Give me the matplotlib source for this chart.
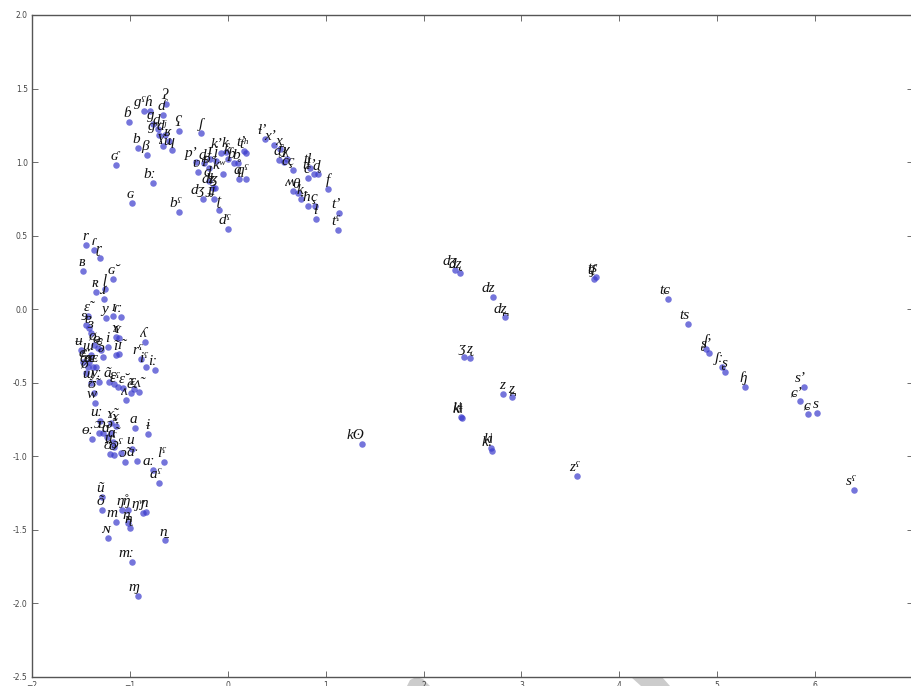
import matplotlib
matplotlib.use('Agg')
import matplotlib.pyplot as plt
from matplotlib.patches import Polygon

# phoneme labels and their 2-d embedding coordinates
labels = [
    # voiced stops / implosives
    'ʛ', 'ɢ', 'ɓ', 'b', 'β', 'ɡˤ', 'ɦ', 'ɗ', 'ʔ', 'ɡ', 'd', 'ɡʷ', 'dʲ', 'ʕ',
    'ʁ', 'ɣ', 'ɰ', 'bː', 'bˤ', 'ʃ',
    # central stop cluster
    'pʼ', 'd̪', 'ɟ', 'ʋ', 'p', 'ʝ', 'kʼ', 'k', 'ƙ', 'ƥ', 'b̥', 'tʼ', 'tʰ',
    'kʷ', 'q', 'qˤ', 'ɖ', 'dʑ', 'ɮ', 'dʒ', 'ɟʝ', 'ʈ', 'dˤ',
    # voiceless fricatives / laterals
    'ɬʼ', 'xʼ', 'x̠', 'ɗ̥', 'ɫ', 'χ', 'cç', 'tɬ', 'c', 'tɬʼ', 'd̥', 'f',
    'ʍ', 'θ', 'k̟', 'ħ', 'ç', 'ɬ', 'tʼ', 'tˤ',
    # rhotics, liquids, vowels
    'r', 'ɾ', 'ɽ', 'ʙ', 'ɢ̆', 'ʀ', 'ɭ', 'ɹ', 'ɛ̃', 'y', 'ɪ', 'ɾː', 'ɘ', 'ɐ',
    'ɜ', 'ɤ', 'ʏ', 'ʉ', 'ø', 'ɵ', 'ɞ', 'ə', 'ɯ̃', 'i', 'ĩ', 'ɪ̃', 'ʎ', 'rˤ',
    'iˤ', 'iː', 'e', 'ɛː', 'æ', 'œ', 'ɶ', 'ø̃', 'yː', 'ɯ', 'ʊ̃', 'w', 'ã',
    'ɛ', 'ɛˤ', 'ɛ̆', 'ʌ', 'ẽ', 'ɛ̰', 'ʌ̃',
    'uː', 'ɤ̃', 'ɤ̞', 'a', 'ɨ', 'ɵː', 'ɔ', 'ɒ', 'ɑ', 'ə̃', 'ɑ̃', 'ʊ', 'uˤ',
    'u', 'o', 'ɔˤ', 'aˑ', 'ɔ̃', 'lˤ', 'aː', 'aˤ',
    # nasals
    'ũ', 'õ', 'ŋ̊', 'ŋ', 'ŋʷ', 'ɲ', 'm', 'n̪', 'ɳ', 'ɴ', 'n̠', 'mː', 'ɱ',
    # clicks, sibilants
    'kʘ', 'dʒ', 'dʐ', 'dz', 'dz̪', 'ʒ', 'ʐ', 'z', 'z̪', 'kǁ', 'kǂ', 'kǀ',
    'kǃ', 'zˤ', 'tʃ', 'tʂ', 'tɕ', 'ts', 'ʃ', 'ʂʼ', 'ʃː', 'ʂ', 'ɧ', 'sʼ',
    'ɕʼ', 'ɕ', 's', 'sˤ',
]

x_vals = [
    -1.144, -0.981, -1.011, -0.919, -0.827, -0.858, -0.797, -0.664, -0.633,
    -0.766, -0.715, -0.705, -0.644, -0.501, -0.603, -0.664, -0.572, -0.766,
    -0.501, -0.276,
    -0.327, -0.245, -0.184, -0.306, -0.194, -0.123, -0.072, -0.020, 0.000,
    0.061, 0.102, 0.163, 0.184, -0.051, 0.112, 0.184, -0.194, -0.153, -0.133,
    -0.255, -0.143, -0.092, 0.000,
    0.378, 0.470, 0.531, 0.521, 0.572, 0.603, 0.664, 0.838, 0.817, 0.878,
    0.919, 1.022, 0.664, 0.715, 0.746, 0.817, 0.889, 0.899, 1.134, 1.124,
    -1.450, -1.369, -1.308, -1.481, -1.175, -1.348, -1.256, -1.267, -1.430,
    -1.246, -1.175, -1.093, -1.450, -1.420, -1.399, -1.144, -1.113, -1.502,
    -1.369, -1.328, -1.297, -1.277, -1.399, -1.226, -1.144, -1.113, -0.848,
    -0.889, -0.838, -0.746, -1.481, -1.420, -1.430, -1.379, -1.348, -1.450,
    -1.318, -1.399, -1.369, -1.359, -1.216, -1.165, -1.124, -1.073, -1.042,
    -0.991, -0.960, -0.909,
    -1.308, -1.195, -1.144, -0.950, -0.817, -1.389, -1.318, -1.277, -1.236,
    -1.195, -1.175, -1.205, -1.165, -0.981, -1.165, -1.093, -0.930, -1.052,
    -0.654, -0.766, -0.705,
    -1.287, -1.287, -1.083, -1.022, -0.868, -0.838, -1.144, -1.022, -1.001,
    -1.226, -0.644, -0.981, -0.919,
    1.369, 2.319, 2.370, 2.707, 2.830, 2.411, 2.472, 2.809, 2.901, 2.390,
    2.380, 2.687, 2.697, 3.565, 3.739, 3.759, 4.495, 4.699, 4.883, 4.913,
    5.046, 5.077, 5.281, 5.884, 5.843, 5.925, 6.017, 6.395,
]

y_vals = [
    0.980, 0.721, 1.272, 1.095, 1.048, 1.347, 1.347, 1.320, 1.395, 1.259,
    1.225, 1.184, 1.184, 1.211, 1.143, 1.109, 1.082, 0.857, 0.660, 1.197,
    1.000, 0.993, 1.020, 0.932, 0.959, 1.007, 1.061, 1.068, 1.020, 0.993,
    0.993, 1.075, 1.061, 0.918, 0.884, 0.884, 0.871, 0.823, 0.823, 0.748,
    0.748, 0.673, 0.544,
    1.157, 1.116, 1.088, 1.014, 1.000, 1.020, 0.946, 0.959, 0.891, 0.918,
    0.918, 0.816, 0.803, 0.789, 0.748, 0.701, 0.701, 0.612, 0.653, 0.537,
    0.435, 0.401, 0.347, 0.259, 0.204, 0.116, 0.136, 0.068, -0.048, -0.061,
    -0.048, -0.054, -0.109, -0.129, -0.163, -0.190, -0.197, -0.279, -0.245,
    -0.265, -0.279, -0.327, -0.313, -0.259, -0.313, -0.306, -0.224, -0.340,
    -0.395, -0.415, -0.361, -0.361, -0.395, -0.395, -0.395, -0.435, -0.497,
    -0.503, -0.571, -0.639, -0.497, -0.510, -0.531, -0.537, -0.619, -0.571,
    -0.544, -0.565,
    -0.762, -0.776, -0.796, -0.810, -0.850, -0.884, -0.844, -0.844, -0.871,
    -0.844, -0.905, -0.986, -0.939, -0.952, -0.993, -0.980, -1.034, -1.041,
    -1.041, -1.095, -1.184,
    -1.279, -1.367, -1.367, -1.367, -1.388, -1.381, -1.449, -1.456, -1.490,
    -1.558, -1.571, -1.721, -1.952,
    -0.918, 0.265, 0.245, 0.082, -0.054, -0.327, -0.333, -0.578, -0.599,
    -0.742, -0.735, -0.946, -0.966, -1.136, 0.204, 0.218, 0.068, -0.102,
    -0.272, -0.299, -0.395, -0.429, -0.531, -0.531, -0.626, -0.714, -0.707,
    -1.231,
]

x_ticks = [-2, -1, 0, 1, 2, 3, 4, 5, 6, 7]
y_ticks = [-2.5, -2.0, -1.5, -1.0, -0.5, 0.0, 0.5, 1.0, 1.5, 2.0]

# grey smudges that sit just under the x axis in the original
smudges = [
    [(407, 686), (410, 680), (416, 677), (423, 679), (430, 686)],
    [(631, 677), (662, 677), (670, 686), (641, 686)],
]

W, H = 911, 686
fig = plt.figure(figsize=(W / 100, H / 100), dpi=100)
ax = fig.add_axes([32 / W, 9 / H, 881 / W, 662 / H])

ax.scatter(x_vals, y_vals, s=22, color='#3a3acc', alpha=0.7, linewidths=0, zorder=2)

for lab, x, y in zip(labels, x_vals, y_vals):
    ax.annotate(lab, xy=(x, y), xytext=(1.5, 1.5), textcoords='offset points',
                ha='right', va='bottom', fontsize=11, style='italic',
                family=['Liberation Serif', 'DejaVu Serif'], color='#111111', zorder=3)

ax.set_xlim(-2, 7)
ax.set_ylim(-2.5, 2.0)
ax.set_xticks(x_ticks)
ax.set_yticks(y_ticks)
ax.set_yticklabels(['%.1f' % v for v in y_ticks])
ax.tick_params(direction='in', length=4, width=0.6, top=True, right=True,
               labelsize=5.5, labelcolor='#444444', color='#555555', pad=3)
for sp in ax.spines.values():
    sp.set_color('#555555')
    sp.set_linewidth(1.0)

for pts in smudges:
    poly = Polygon([(px / W, 1 - py / H) for px, py in pts], closed=True,
                   transform=fig.transFigure, facecolor='#cccccc', edgecolor='none', zorder=0)
    fig.add_artist(poly)

fig.savefig('out.png', dpi=100)
